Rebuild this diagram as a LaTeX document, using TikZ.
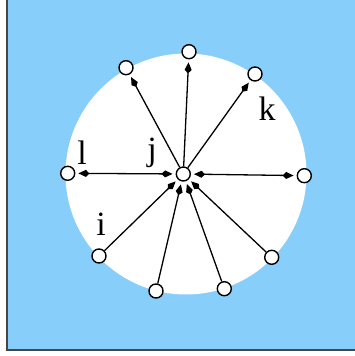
\documentclass[tikz,border=0pt]{standalone}
\usepackage{fontspec}
\setmainfont{Liberation Serif}
\usepackage{tikz}
\usetikzlibrary{arrows.meta}
\definecolor{skyback}{RGB}{135,206,250}
\definecolor{framegray}{RGB}{70,70,70}

\begin{document}
\begin{tikzpicture}[
  x=1pt,y=1pt,
  >={Kite[length=11pt,width=7pt,inset=3.5pt]},
  dot/.style={circle,draw=black,line width=1.4pt,fill=white,minimum size=14pt,inner sep=0pt},
  arr/.style={line width=1.3pt,shorten <=3pt,shorten >=3pt},
  oneway/.style={arr,shorten <=0pt,->},
  lab/.style={font=\fontsize{34}{34}\selectfont,anchor=base,inner sep=0pt}
]
\useasboundingbox (0,0) rectangle (355,356);
% background
\fill[skyback] (7,6) rectangle (355,356);
\draw[framegray,line width=1.6pt] (7,356) -- (7,6) -- (355,6);
\fill[white] (186,182) circle (120.5);

% nodes
\node[dot] (j) at (183.3,182) {};
\node[dot] (top) at (189,304.3) {};
\node[dot] (ul) at (126,288.3) {};
\node[dot] (ur) at (255,282) {};
\node[dot] (l) at (67.7,182.7) {};
\node[dot] (r) at (304.3,180.3) {};
\node[dot] (i) at (99,100) {};
\node[dot] (bl) at (156,65) {};
\node[dot] (br) at (224.3,67.3) {};
\node[dot] (rl) at (271.7,98.7) {};

% labels
\node[lab] (labk) at (267,235) {k};
\node[lab] (labl) at (82,191) {l};
\node[lab] (labj) at (152,195.5) {j};
\node[lab] (labi) at (101,120) {i};

% outgoing
\draw[oneway] (j) -- (top);
\draw[oneway] (j) -- (ul);
\draw[oneway] (j) -- (ur);
% both ways
\draw[arr,<->] (l) -- (j);
\draw[arr,<->] (j) -- (r);
% incoming
\draw[oneway] (i) -- (j);
\draw[oneway] (bl) -- (j);
\draw[oneway] (br) -- (j);
\draw[oneway] (rl) -- (j);
\end{tikzpicture}
\end{document}
